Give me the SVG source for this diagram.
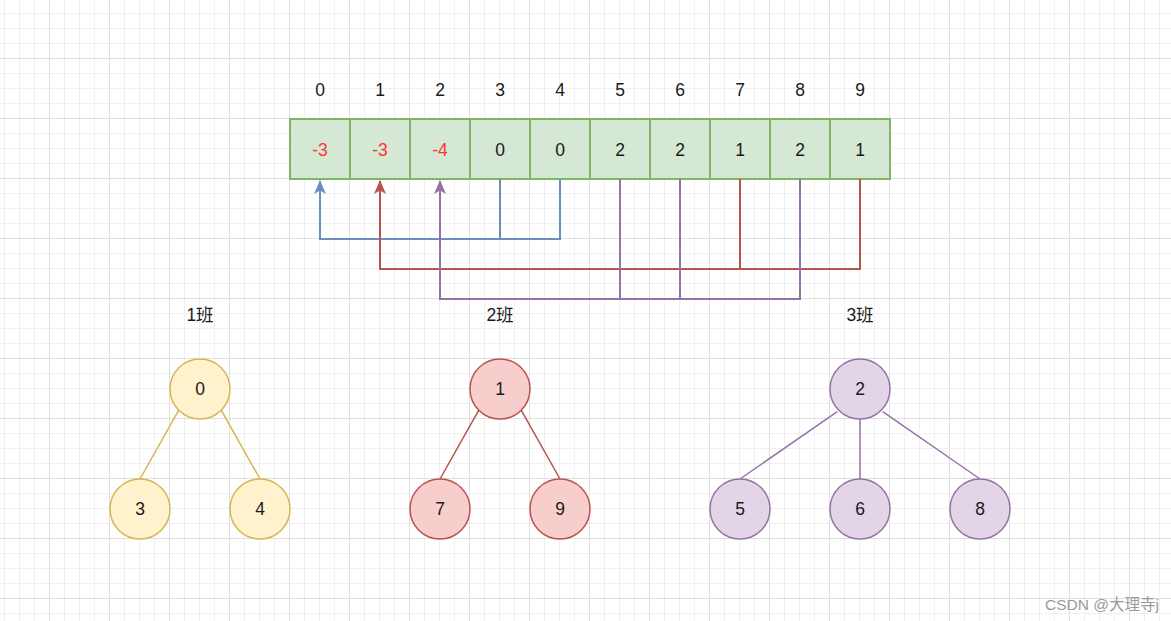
<svg xmlns="http://www.w3.org/2000/svg" width="1171" height="621" viewBox="0 0 1171 621">
<defs>
<pattern id="minor" patternUnits="userSpaceOnUse" x="4" y="13" width="15" height="15">
<path d="M0.5 0V15M0 0.5H15" stroke="#f0f0f0" stroke-width="1" fill="none"/>
</pattern>
<pattern id="major" patternUnits="userSpaceOnUse" x="49" y="58" width="60" height="60">
<path d="M0.5 0V60M0 0.5H60" stroke="#e0e0e0" stroke-width="1" fill="none"/>
</pattern>
<marker id="ab" viewBox="0 0 14 12" refX="13" refY="6" markerWidth="14" markerHeight="12" markerUnits="userSpaceOnUse" orient="auto"><path d="M0 0L14 6L0 12L3.5 6Z" fill="#6c8ebf"/></marker>
<marker id="ar" viewBox="0 0 14 12" refX="13" refY="6" markerWidth="14" markerHeight="12" markerUnits="userSpaceOnUse" orient="auto"><path d="M0 0L14 6L0 12L3.5 6Z" fill="#b85450"/></marker>
<marker id="ap" viewBox="0 0 14 12" refX="13" refY="6" markerWidth="14" markerHeight="12" markerUnits="userSpaceOnUse" orient="auto"><path d="M0 0L14 6L0 12L3.5 6Z" fill="#9673a6"/></marker>
</defs>
<style>
text{font-family:"Liberation Sans",Arial,"Noto Sans CJK SC",sans-serif;font-size:17.5px;fill:#1a1a1a;text-anchor:middle;dominant-baseline:central}
.cell{fill:#d5e8d4;stroke:#82b366;stroke-width:2}
.neg{fill:#ff3333}
.y{fill:#fff2cc;stroke:#d6b656;stroke-width:1.5}
.r{fill:#f8cecc;stroke:#b85450;stroke-width:1.5}
.p{fill:#e1d5e7;stroke:#9673a6;stroke-width:1.5}
.cb{stroke:#6c8ebf;stroke-width:2;fill:none}
.cr{stroke:#b85450;stroke-width:2;fill:none}
.cp{stroke:#9673a6;stroke-width:2;fill:none}
.ey{stroke:#d6b656;stroke-width:1.5}
.er{stroke:#b85450;stroke-width:1.5}
.ep{stroke:#9673a6;stroke-width:1.5}
.wm{font-size:15.5px;fill:#9a9a9a;text-anchor:start}
</style>
<rect width="1171" height="621" fill="#ffffff"/>
<rect width="1171" height="621" fill="url(#minor)"/>
<rect width="1171" height="621" fill="url(#major)"/>

<g id="indices">
<text x="320" y="89.5">0</text><text x="380" y="89.5">1</text><text x="440" y="89.5">2</text><text x="500" y="89.5">3</text><text x="560" y="89.5">4</text>
<text x="620" y="89.5">5</text><text x="680" y="89.5">6</text><text x="740" y="89.5">7</text><text x="800" y="89.5">8</text><text x="860" y="89.5">9</text>
</g>

<g id="array">
<g id="cell0"><rect class="cell" x="290" y="119" width="60" height="60"/><text class="neg" x="320" y="149.5">-3</text></g>
<g id="cell1"><rect class="cell" x="350" y="119" width="60" height="60"/><text class="neg" x="380" y="149.5">-3</text></g>
<g id="cell2"><rect class="cell" x="410" y="119" width="60" height="60"/><text class="neg" x="440" y="149.5">-4</text></g>
<g id="cell3"><rect class="cell" x="470" y="119" width="60" height="60"/><text x="500" y="149.5">0</text></g>
<g id="cell4"><rect class="cell" x="530" y="119" width="60" height="60"/><text x="560" y="149.5">0</text></g>
<g id="cell5"><rect class="cell" x="590" y="119" width="60" height="60"/><text x="620" y="149.5">2</text></g>
<g id="cell6"><rect class="cell" x="650" y="119" width="60" height="60"/><text x="680" y="149.5">2</text></g>
<g id="cell7"><rect class="cell" x="710" y="119" width="60" height="60"/><text x="740" y="149.5">1</text></g>
<g id="cell8"><rect class="cell" x="770" y="119" width="60" height="60"/><text x="800" y="149.5">2</text></g>
<g id="cell9"><rect class="cell" x="830" y="119" width="60" height="60"/><text x="860" y="149.5">1</text></g>
</g>

<g id="connectors">
<path class="cb" d="M500 179V239H320V181" marker-end="url(#ab)"/>
<path class="cb" d="M560 179V239H500"/>
<path class="cr" d="M860 179V269H380V181" marker-end="url(#ar)"/>
<path class="cr" d="M740 179V269"/>
<path class="cp" d="M800 179V299H440V181" marker-end="url(#ap)"/>
<path class="cp" d="M620 179V299"/>
<path class="cp" d="M680 179V299"/>
<line class="ey" x1="178.8" y1="410.2" x2="140" y2="479"/>
<line class="ey" x1="221.2" y1="410.2" x2="260" y2="479"/>
<line class="er" x1="478.8" y1="410.2" x2="440" y2="479"/>
<line class="er" x1="521.2" y1="410.2" x2="560" y2="479"/>
<line class="ep" x1="837.3" y1="411.7" x2="740" y2="479"/>
<line class="ep" x1="860" y1="419" x2="860" y2="479"/>
<line class="ep" x1="882.7" y1="411.7" x2="980" y2="479"/>
</g>

<g id="labels">
<text x="200" y="315">1班</text>
<text x="500" y="315">2班</text>
<text x="860" y="315">3班</text>
</g>

<g id="n0"><circle class="y" cx="200" cy="389" r="30"/><text x="200" y="389">0</text></g>
<g id="n3"><circle class="y" cx="140" cy="509" r="30"/><text x="140" y="509">3</text></g>
<g id="n4"><circle class="y" cx="260" cy="509" r="30"/><text x="260" y="509">4</text></g>
<g id="n1"><circle class="r" cx="500" cy="389" r="30"/><text x="500" y="389">1</text></g>
<g id="n7"><circle class="r" cx="440" cy="509" r="30"/><text x="440" y="509">7</text></g>
<g id="n9"><circle class="r" cx="560" cy="509" r="30"/><text x="560" y="509">9</text></g>
<g id="n2"><circle class="p" cx="860" cy="389" r="30"/><text x="860" y="389">2</text></g>
<g id="n5"><circle class="p" cx="740" cy="509" r="30"/><text x="740" y="509">5</text></g>
<g id="n6"><circle class="p" cx="860" cy="509" r="30"/><text x="860" y="509">6</text></g>
<g id="n8"><circle class="p" cx="980" cy="509" r="30"/><text x="980" y="509">8</text></g>

<text class="wm" x="1045" y="604">CSDN @大理寺j</text>
</svg>
